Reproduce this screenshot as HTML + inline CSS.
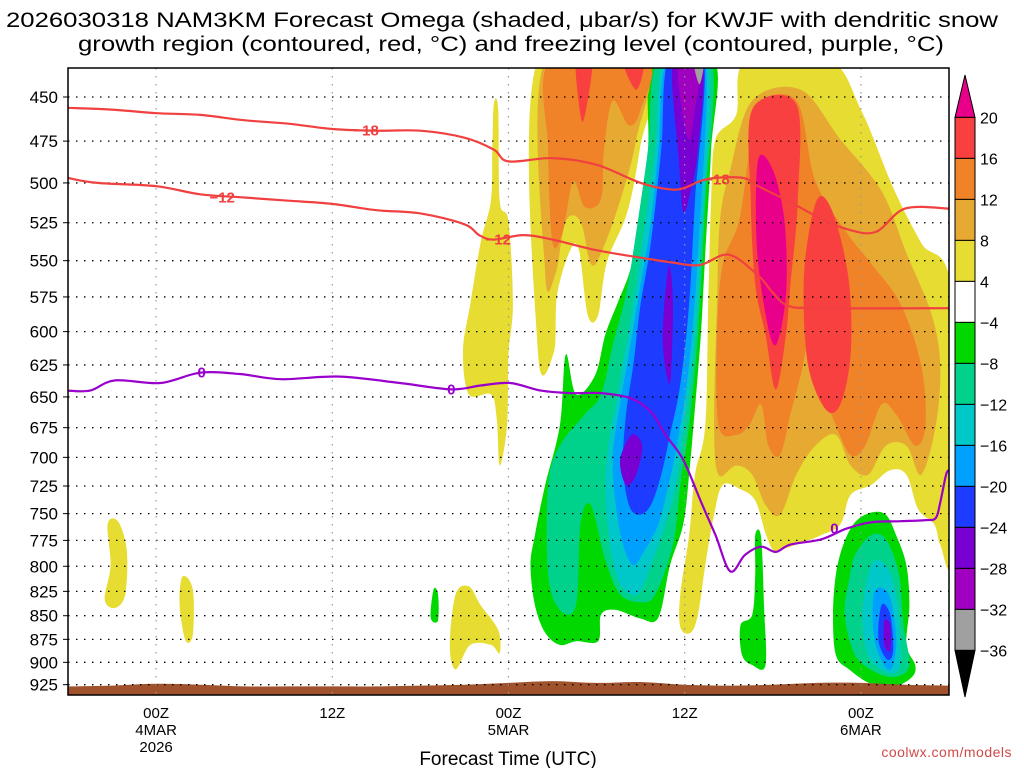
<!DOCTYPE html>
<html><head><meta charset="utf-8"><title>NAM3KM Omega KWJF</title>
<style>
html,body{margin:0;padding:0;background:#fff;}
svg{display:block;font-family:"Liberation Sans",sans-serif;}
</style></head>
<body>
<svg id="chart" width="1024" height="768" viewBox="0 0 1024 768" xmlns="http://www.w3.org/2000/svg">
<rect x="0" y="0" width="1024" height="768" fill="#fff"/>
<text x="6" y="27" font-size="21" textLength="992" lengthAdjust="spacingAndGlyphs">2026030318 NAM3KM Forecast Omega (shaded, μbar/s) for KWJF with dendritic snow</text>
<text x="78" y="51" font-size="21" textLength="866" lengthAdjust="spacingAndGlyphs">growth region (contoured, red, °C) and freezing level (contoured, purple, °C)</text>
<defs><clipPath id="plotclip"><rect x="68" y="68" width="881" height="627"/></clipPath></defs>
<g id="fills" clip-path="url(#plotclip)"></g>
<g id="terrain" clip-path="url(#plotclip)"></g>
<g id="grid" clip-path="url(#plotclip)"></g>
<g id="lines" clip-path="url(#plotclip)"></g>
<rect x="68" y="68" width="881" height="627" fill="none" stroke="#000" stroke-width="1.5"/>
<g id="yaxis"></g>
<g id="xaxis"></g>
<g id="cbar"></g>
<text x="508" y="765" font-size="19" text-anchor="middle">Forecast Time (UTC)</text>
<text x="1012" y="757" font-size="14" fill="#d04848" text-anchor="end" letter-spacing="0.5">coolwx.com/models</text>
</svg>
<script>
// ---------- data ----------
const pressureTicks = [450,475,500,525,550,575,600,625,650,675,700,725,750,775,800,825,850,875,900,925];
const timeTickHours = [6,18,30,42,54];
const timeTickLabels = [["00Z","4MAR","2026"],["12Z"],["00Z","5MAR"],["12Z"],["00Z","6MAR"]];
const colorbarLevels = [20,16,12,8,4,-4,-8,-12,-16,-20,-24,-28,-32,-36];
const colorbarFills = ["#f84040","#f08228","#e6aa32","#e6dc32","#ffffff","#00d800","#00d28c","#00c8c8","#00a0ff","#1e3cff","#7800d2","#a000c0","#a0a0a0"];
const colorAbove = "#e8008a";
const colorBelow = "#000000";
// shaded omega regions: [lower threshold, [[hour, hPa], ...]]
const omegaRegions = [
 [4,[[2.7,760],[3.4,757],[4.0,784],[3.9,828],[3.2,842],[2.5,833],[2.9,799]]],
 [4,[[7.8,810],[8.5,823],[8.5,870],[8.0,876],[7.6,839]]],
 [-4,[[24.9,823],[25.2,828],[25.2,855],[24.7,852]]],
 [4,[[26.4,828],[27.3,820],[28.1,839],[29.3,865],[29.4,890],[28.8,881],[27.4,881],[26.4,908],[26.0,881]]],
 [4,[[29.0,454],[29.3,457],[29.4,511],[30.0,524],[30.3,580],[30.0,617],[29.9,673],[29.4,707],[29.2,668],[28.8,648],[27.3,648],[26.9,614],[27.4,580],[28.1,538],[28.8,511],[28.9,480]]],
 [4,[[32.0,430],[39.8,430],[39.0,477],[38.1,518],[36.7,551],[36.1,588],[35.4,588],[34.8,543],[34.2,543],[33.3,574],[33.1,615],[32.0,615]]],
 [8,[[32.5,430],[39.3,430],[38.7,474],[37.6,511],[36.3,545],[35.6,552],[34.9,524],[33.9,524],[33.2,559],[32.5,559]]],
 [12,[[32.9,430],[39.4,430],[39.0,457],[38.2,466],[37.1,452],[36.5,480],[36.3,510],[35.2,515],[34.4,499],[33.7,531],[33.0,538],[32.7,480]]],
 [16,[[34.6,430],[35.7,430],[35.2,460],[34.9,460]]],
 [16,[[37.8,430],[39.2,430],[38.7,446]]],
 [4,[[46.2,430],[51.8,430],[54.0,457],[56.2,503],[58.1,538],[60.2,573],[60.2,787],[59.4,779],[59.0,760],[57.9,746],[57.1,715],[56.0,711],[54.7,724],[53.3,733],[52.6,760],[51.3,770],[49.6,779],[48.5,784],[48.0,784],[47.5,768],[46.8,738],[45.8,728],[44.6,724],[44.0,751],[43.4,799],[42.9,849],[42.4,868],[41.7,862],[41.7,828],[42.3,770],[42.7,715],[43.4,673],[43.6,580],[43.8,511],[44.1,474],[45.5,460]]],
 [8,[[46.6,452],[49.9,446],[52.6,474],[55.4,505],[57.1,545],[58.8,587],[59.4,625],[59.1,673],[58.1,715],[57.1,690],[55.7,690],[54.5,715],[53.3,707],[52.3,681],[50.9,690],[49.6,715],[48.5,751],[47.5,742],[46.6,715],[45.5,707],[44.3,715],[44.0,673],[44.2,580],[44.4,524],[45.1,492]]],
 [12,[[46.8,454],[49.6,452],[50.9,499],[53.0,531],[54.7,552],[56.7,580],[58.1,625],[58.4,673],[57.7,690],[56.4,664],[55.4,656],[54.3,690],[53.3,698],[52.3,673],[51.3,640],[50.6,602],[49.9,633],[49.2,664],[48.5,698],[47.7,690],[47.2,656],[46.4,673],[45.5,681],[44.3,673],[44.2,602],[44.6,552],[45.7,524],[46.4,480]]],
 [16,[[46.6,457],[49.6,454],[49.7,511],[49.2,566],[48.9,602],[48.2,644],[47.5,602],[46.8,566],[46.5,511]]],
 [20,[[47.0,486],[48.0,492],[48.8,524],[48.9,573],[48.2,610],[47.5,587],[46.9,538]]],
 [16,[[51.3,508],[52.3,524],[53.2,566],[53.3,617],[52.6,656],[51.6,660],[50.4,625],[50.1,566],[50.6,524]]],
 [-4,[[39.9,430],[44.0,430],[43.8,480],[43.4,545],[43.1,602],[42.6,673],[42.3,715],[41.9,760],[41.0,799],[40.2,852],[39.0,853],[37.3,844],[36.3,849],[36.1,877],[34.6,877],[33.5,881],[32.5,868],[31.8,839],[31.5,799],[31.8,770],[32.5,724],[33.5,673],[33.9,617],[34.6,648],[35.9,633],[36.6,602],[37.4,580],[38.3,556],[39.0,524],[39.5,480]]],
 [-8,[[40.2,430],[43.8,430],[43.4,511],[42.9,602],[42.3,673],[41.7,724],[41.2,779],[40.0,828],[39.0,836],[37.6,828],[36.6,794],[35.6,742],[34.9,760],[34.6,839],[33.5,844],[32.7,808],[32.7,724],[33.5,690],[35.2,664],[36.3,648],[37.1,610],[38.0,573],[38.7,531],[39.5,480]]],
 [-12,[[40.6,430],[43.6,430],[43.1,545],[42.6,617],[41.9,681],[41.4,724],[40.7,760],[39.7,799],[38.8,828],[37.6,818],[36.9,779],[36.6,724],[36.9,681],[37.3,656],[38.0,610],[38.7,566],[39.3,524],[40.0,480]]],
 [-16,[[40.8,430],[43.4,430],[42.9,545],[42.3,625],[41.6,681],[40.9,724],[40.2,760],[39.3,784],[38.5,799],[37.8,779],[37.3,742],[37.1,698],[37.6,656],[38.3,610],[39.0,566],[39.7,524],[40.2,480]]],
 [-20,[[40.9,430],[43.3,430],[42.7,511],[42.3,580],[41.7,640],[41.0,681],[40.4,715],[39.7,742],[38.9,751],[38.2,742],[37.8,707],[38.0,664],[38.5,625],[39.0,580],[39.7,538],[40.4,480]]],
 [-24,[[41.2,430],[43.2,430],[42.9,480],[42.4,505],[41.9,518],[41.6,486]]],
 [-24,[[40.9,554],[41.2,580],[41.0,639],[40.5,606]]],
 [-24,[[38.4,681],[39.1,690],[38.7,715],[38.0,724],[37.6,702]]],
 [-28,[[41.6,430],[43.1,430],[42.7,457],[42.3,474],[41.8,457]]],
 [-32,[[42.6,430],[43.3,430],[43.0,443]]],
 [-4,[[52.8,779],[53.6,758],[54.7,749],[55.7,751],[56.4,770],[57.1,799],[57.3,839],[57.1,881],[57.7,903],[57.5,916],[56.4,926],[54.7,924],[53.2,908],[52.3,892],[52.1,849],[52.3,808]]],
 [-8,[[53.6,789],[54.7,770],[55.7,774],[56.6,808],[56.9,860],[57.3,903],[56.4,916],[55.0,911],[53.6,892],[52.9,849],[53.2,813]]],
 [-12,[[54.7,799],[55.7,799],[56.4,828],[56.7,881],[56.6,908],[55.7,911],[54.5,892],[54.1,849]]],
 [-16,[[55.0,823],[55.9,828],[56.4,870],[56.2,903],[55.7,906],[55.0,881],[54.8,849]]],
 [-20,[[55.4,839],[56.0,849],[56.2,887],[55.8,897],[55.2,876]]],
 [-24,[[55.6,855],[56.0,860],[56.0,887],[55.6,881]]],
 [-4,[[46.8,770],[47.2,772],[47.4,839],[47.5,903],[46.6,903],[45.9,892],[45.8,860],[46.6,849],[46.8,808]]]
];
const isoM18Hours = [0,3,6,9,12,15,18,21,24,27,29,30,33,36,39,41,42,43,44,46,47,49,51,53,55,57,60];
const isoM18P = [456,457,459,460,463,465,468,469,469,473,480,487,485,489,500,504,503,499,497,497,502,511,521,529,531,516,516];
const isoM12Hours = [0,2,6,9,12,15,18,21,24,27,28,29,31,33,36,39,41,43,45,47,48,49,51,60];
const isoM12P = [497,500,502,507,509,511,513,517,519,526,533,536,533,536,543,548,551,553,546,560,572,581,583,583];
const iso0Hours = [0,1.5,3.2,6.3,9,11.7,14.5,18.5,22.6,26.1,28.1,30.1,32.2,34.2,36.3,38.3,39.7,40.7,41.9,43.1,44.1,45.1,46.1,47.2,48.2,49.2,51.3,53,54.7,56.7,58.4,59.1,59.4,59.8,60];
const iso0P = [645,645,637,639,631,632,636,634,639,644,641,639,645,647,647,651,662,681,702,739,770,805,789,781,786,779,774,764,758,757,756,754,740,715,711];
const contourLabelText = ["−18","−18","−12","−12","0","0","0"];
const contourLabelHours = [20.3,44.2,10.5,29.3,9.1,26.1,52.2];
const contourLabelP = [469,498,509,536,631,644,764];
const surfaceHours = [0,3,6,9,12,15,18,21,24,27,30,33,36,39,42,45,48,51,54,57,60];
const surfaceP = [927,926,924,925,927,927,927,927,926,925,923,921,923,922,925,926,925,923,923,925,926];

// ---------- axes ----------
const X0=68, X1=949, H0=0, H1=60;
function xOf(h){return X0+(h-H0)*(X1-X0)/(H1-H0);}
function yOf(p){return 97+815.6*Math.log(p/450);}
const NS="http://www.w3.org/2000/svg";
function mk(tag,attrs,parent){const e=document.createElementNS(NS,tag);for(const k in attrs)e.setAttribute(k,attrs[k]);parent.appendChild(e);return e;}
function fillOf(lv){
  const map={4:"#e6dc32",8:"#e6aa32",12:"#f08228",16:"#f84040",20:"#e8008a",
   "-4":"#00d800","-8":"#00d28c","-12":"#00c8c8","-16":"#00a0ff","-20":"#1e3cff","-24":"#7800d2","-28":"#a000c0","-32":"#a0a0a0"};
  return map[lv];
}
function smoothClosed(pts){
  const n=pts.length;let d="M"+pts[0][0].toFixed(1)+","+pts[0][1].toFixed(1);
  for(let i=0;i<n;i++){
    const p0=pts[(i-1+n)%n],p1=pts[i],p2=pts[(i+1)%n],p3=pts[(i+2)%n];
    const c1=[p1[0]+(p2[0]-p0[0])/6,p1[1]+(p2[1]-p0[1])/6];
    const c2=[p2[0]-(p3[0]-p1[0])/6,p2[1]-(p3[1]-p1[1])/6];
    d+=" C"+c1[0].toFixed(1)+","+c1[1].toFixed(1)+" "+c2[0].toFixed(1)+","+c2[1].toFixed(1)+" "+p2[0].toFixed(1)+","+p2[1].toFixed(1);
  }
  return d+"Z";
}
function smoothOpen(pts){
  let d="M"+pts[0][0].toFixed(1)+","+pts[0][1].toFixed(1);
  for(let i=0;i<pts.length-1;i++){
    const p0=pts[Math.max(i-1,0)],p1=pts[i],p2=pts[i+1],p3=pts[Math.min(i+2,pts.length-1)];
    const c1=[p1[0]+(p2[0]-p0[0])/6,p1[1]+(p2[1]-p0[1])/6];
    const c2=[p2[0]-(p3[0]-p1[0])/6,p2[1]-(p3[1]-p1[1])/6];
    d+=" C"+c1[0].toFixed(1)+","+c1[1].toFixed(1)+" "+c2[0].toFixed(1)+","+c2[1].toFixed(1)+" "+p2[0].toFixed(1)+","+p2[1].toFixed(1);
  }
  return d;
}

// ---------- shading ----------
const fills=document.getElementById("fills");
const order=omegaRegions.map((r,i)=>i).sort((a,b)=>Math.abs(omegaRegions[a][0])-Math.abs(omegaRegions[b][0]));
order.forEach(i=>{
  const lv=omegaRegions[i][0];
  const pts=omegaRegions[i][1].map(q=>[xOf(q[0]),yOf(q[1])]);
  const el=mk("path",{d:smoothClosed(pts),fill:fillOf(lv)},fills);
  
  
});

// ---------- terrain ----------
const terr=document.getElementById("terrain");
{
  let pts=surfaceHours.map((h,i)=>[xOf(h),yOf(surfaceP[i])]);
  let d=smoothOpen(pts)+" L"+xOf(60)+",700 L"+xOf(0)+",700 Z";
  const el=mk("path",{d:d,fill:"#a0522d"},terr);
  
  
}

// ---------- grid ----------
const grid=document.getElementById("grid");
pressureTicks.forEach(p=>{
  const y=yOf(p);
  const el=mk("line",{x1:X0,x2:X1,y1:y,y2:y,stroke:"#000","stroke-width":1.3,"stroke-dasharray":"1.5 6.5"},grid);
  
  
});
timeTickHours.forEach(h=>{
  const x=xOf(h);
  const el=mk("line",{x1:x,x2:x,y1:68,y2:695,stroke:"#999","stroke-width":1.2,"stroke-dasharray":"1.5 6.5"},grid);
  
  
});

// ---------- contour lines ----------
const lines=document.getElementById("lines");
function drawLine(hs,ps,color,name){
  const pts=hs.map((h,i)=>[xOf(h),yOf(ps[i])]);
  const el=mk("path",{d:smoothOpen(pts),fill:"none",stroke:color,"stroke-width":2.2,"stroke-linejoin":"round"},lines);
  
  
}
drawLine(isoM18Hours,isoM18P,"#f04040","isotherm-minus18");
drawLine(isoM12Hours,isoM12P,"#f04040","isotherm-minus12");
drawLine(iso0Hours,iso0P,"#9a00cc","freezing-level-0c");
contourLabelText.forEach((t,i)=>{
  const col=t==="0"?"#9a00cc":"#f04040";
  const el=mk("text",{x:xOf(contourLabelHours[i]),y:yOf(contourLabelP[i])+5,"font-size":15,"font-weight":"bold",fill:col,"text-anchor":"middle"},lines);
  el.textContent=t;
  
  
});

// ---------- y axis ----------
const ya=document.getElementById("yaxis");
pressureTicks.forEach(p=>{
  const y=yOf(p);
  const tk=mk("line",{x1:63,x2:68,y1:y,y2:y,stroke:"#000","stroke-width":1},ya);
  
  
  const el=mk("text",{x:58,y:y+6,"font-size":17,"text-anchor":"end"},ya);
  el.textContent=String(p);
  
  
});

// ---------- x axis ----------
const xa=document.getElementById("xaxis");
timeTickHours.forEach((h,i)=>{
  const x=xOf(h);
  timeTickLabels[i].forEach((t,j)=>{
    const el=mk("text",{x:x,y:718+j*17,"font-size":15,"text-anchor":"middle"},xa);
    el.textContent=t;
    
    
  });
});

// ---------- colorbar ----------
const cb=document.getElementById("cbar");
const cbX=955, cbW=20, cbTop=117.4, cbStep=41.0;
function cbY(i){return cbTop+i*cbStep;}
{
  const t=mk("path",{d:`M${cbX},${cbTop} L${cbX+cbW/2},75 L${cbX+cbW},${cbTop} Z`,fill:colorAbove,stroke:"#000","stroke-width":1},cb);
  
  
}
colorbarFills.forEach((c,i)=>{
  const r=mk("rect",{x:cbX,y:cbY(i),width:cbW,height:cbStep,fill:c,stroke:"#000","stroke-width":1},cb);
  
  
});
{
  const yb=cbY(colorbarFills.length);
  const t=mk("path",{d:`M${cbX},${yb} L${cbX+cbW/2},697 L${cbX+cbW},${yb} Z`,fill:colorBelow,stroke:"#000","stroke-width":1},cb);
  
  
}
colorbarLevels.forEach((v,i)=>{
  const el=mk("text",{x:980,y:cbY(i)+6,"font-size":16},cb);
  el.textContent=v<0?"−"+Math.abs(v):String(v);
  
  
});
</script>
</body></html>
